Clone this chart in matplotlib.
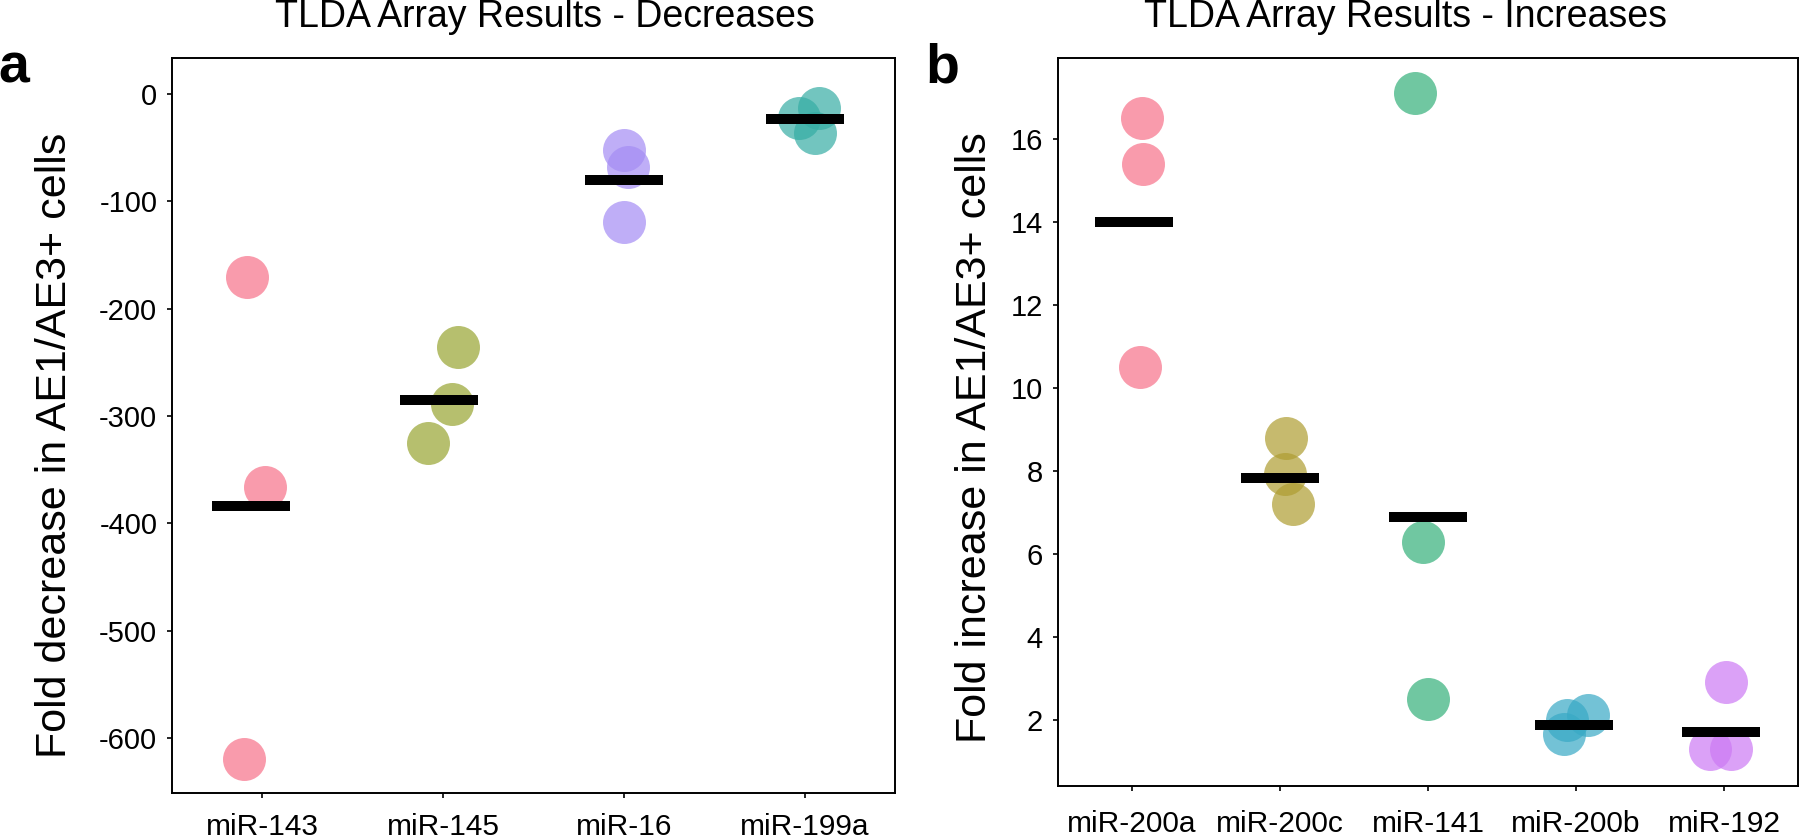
import numpy as np
import matplotlib
matplotlib.use('Agg')
import matplotlib.pyplot as plt
import seaborn as sns

plt.rcParams['font.family'] = ['Liberation Sans', 'DejaVu Sans']
plt.rcParams['axes.unicode_minus'] = False

# panel a - decreases
dec_labels = ['miR-143', 'miR-145', 'miR-16', 'miR-199a']
dec_values = [[-170, -366, -620],
              [-236, -289, -325],
              [-52, -68, -119],
              [-13, -22, -36]]
dec_means = [-384, -285, -80, -23]
dec_jitter = [[-0.086, 0.017, -0.10],
              [0.08, 0.051, -0.086],
              [0.0, 0.02, 0.0],
              [0.077, -0.03, 0.06]]
dec_mean_jitter = [-0.065, -0.024, 0.0, 0.0]

# panel b - increases
inc_labels = ['miR-200a', 'miR-200c', 'miR-141', 'miR-200b', 'miR-192']
inc_values = [[16.5, 15.4, 10.5],
              [8.8, 7.92, 7.2],
              [17.1, 6.29, 2.5],
              [1.66, 2.0, 2.1],
              [2.9, 1.29, 1.29]]
inc_means = [14.0, 7.82, 6.89, 1.86, 1.71]
inc_jitter = [[0.072, 0.079, 0.054],
              [0.043, 0.032, 0.088],
              [-0.085, -0.031, 0.0],
              [-0.08, -0.06, 0.083],
              [0.014, -0.098, 0.044]]
inc_mean_jitter = [0.013, 0.0, 0.0, -0.013, -0.02]

pal4 = sns.husl_palette(4)
dec_colors = [pal4[0], pal4[1], pal4[3], pal4[2]]
inc_colors = sns.husl_palette(5)

fig = plt.figure(figsize=(18, 8.38), dpi=100)
ax1 = fig.add_axes([0.09556, 0.05406, 0.40167, 0.87709])
ax2 = fig.add_axes([0.58761, 0.06205, 0.41144, 0.86909])


def strip(ax, labels, values, jitter, means, mjit, colors, xpad):
    for i, (vals, jit) in enumerate(zip(values, jitter)):
        x = i + np.array(jit)
        ax.scatter(x, vals, s=958, color=colors[i], alpha=0.7, linewidths=0, zorder=2)
    # mean markers
    ax.plot(np.arange(len(means)) + np.array(mjit), means, linestyle='none',
            marker='_', markersize=56.6, markeredgewidth=7.2, color='black', zorder=3)
    ax.set_xticks(range(len(labels)))
    ax.set_xticklabels(labels)
    ax.set_xlim(-0.5, len(labels) - 0.5)
    ax.tick_params(axis='x', labelsize=21.5, length=3.6, width=1.2, pad=xpad)
    ax.tick_params(axis='y', labelsize=21, length=3.6, width=1.2, pad=7)
    for sp in ax.spines.values():
        sp.set_linewidth(1.4)


strip(ax1, dec_labels, dec_values, dec_jitter, dec_means, dec_mean_jitter, dec_colors, 11)
strip(ax2, inc_labels, inc_values, inc_jitter, inc_means, inc_mean_jitter, inc_colors, 14)

ax1.set_ylim(-651, 34)
ax1.set_yticks([0, -100, -200, -300, -400, -500, -600])
ax2.set_ylim(0.40, 17.96)
ax2.set_yticks([2, 4, 6, 8, 10, 12, 14, 16])

fig.text(0.3025, 0.9678, 'TLDA Array Results - Decreases', fontsize=27, ha='center', va='baseline')
fig.text(0.7806, 0.9678, 'TLDA Array Results - Increases', fontsize=27, ha='center', va='baseline')
fig.text(55 / 1800, 0.469, 'Fold decrease in AE1/AE3+ cells', fontsize=31, rotation=90,
         ha='center', va='center')
fig.text(975 / 1800, 0.478, 'Fold increase in AE1/AE3+ cells', fontsize=31, rotation=90,
         ha='center', va='center')
fig.text(-0.001, 0.901, 'a', fontsize=40, fontweight='bold', ha='left', va='baseline')
fig.text(0.514, 0.901, 'b', fontsize=40, fontweight='bold', ha='left', va='baseline')

fig.savefig('out.png', dpi=100)
